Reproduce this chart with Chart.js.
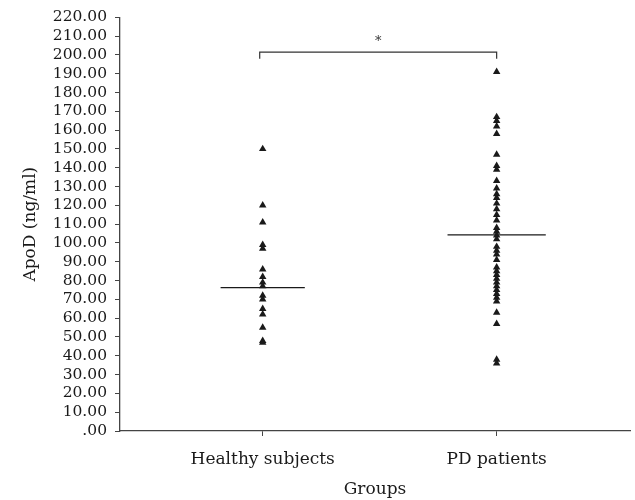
<!DOCTYPE html>
<html>
	<head>
		<meta charset="UTF-8">
		<title></title>
		<style type="text/css">
			body{ margin: 0; background: #fff; }
			#wrap{ width: 635px; height: 500px; }
		</style>
	</head>
	<body>
		<div id="wrap"><canvas id="myChart" width="635" height="500"></canvas></div>
	</body>
	<script src="https://cdn.jsdelivr.net/npm/chart.js@4.4.0/dist/chart.umd.min.js"></script>
	<script>
		// groups on the x axis
		var groups = ['Healthy subjects', 'PD patients'];
		// ApoD values (ng/ml)
		var healthy = [150, 120, 111, 99, 97, 86, 82, 79, 77, 72, 70, 65, 62, 55, 48, 47];
		var pd = [191, 167, 165, 162, 158, 147, 141, 139, 133, 129, 126, 124, 121, 118, 115, 112,
			108, 106, 104, 102, 98, 96, 94, 91, 87, 85, 83, 81, 79, 77, 75, 73, 71, 69, 63, 57, 38, 36];
		// horizontal centre lines
		var centre = [76.2, 104.3];
		var yTicks = [];
		for(var t = 0; t <= 220; t += 10){ yTicks.push(t); }
		var sigLabel = '*';

		var FONT = 'DejaVu Serif';
		var INK = '#1a1a1a';

		function pts(arr, gi){
			return arr.map(function(v){ return {x: gi, y: v}; });
		}
		function line(gi){
			var w = gi === 0 ? 0.18 : 0.21;
			return [{x: gi - w, y: centre[gi]}, {x: gi + w, y: centre[gi]}];
		}

		// significance bracket
		var bracket = {
			id: 'bracket',
			afterDatasetsDraw: function(chart){
				var ctx = chart.ctx, xs = chart.scales.x, ys = chart.scales.y;
				var x0 = xs.getPixelForValue(0) - 3, x1 = xs.getPixelForValue(1);
				var yTop = ys.getPixelForValue(201.5), yEnd = ys.getPixelForValue(198);
				ctx.save();
				ctx.strokeStyle = '#333';
				ctx.lineWidth = 1.2;
				ctx.beginPath();
				ctx.moveTo(x0, yEnd);
				ctx.lineTo(x0, yTop);
				ctx.lineTo(x1, yTop);
				ctx.lineTo(x1, yEnd);
				ctx.stroke();
				ctx.fillStyle = '#333';
				ctx.font = '13px ' + FONT;
				ctx.textAlign = 'center';
				ctx.textBaseline = 'middle';
				ctx.fillText(sigLabel, (x0 + x1) / 2, ys.getPixelForValue(207));
				ctx.restore();
			}
		};

		var ctx = document.getElementById('myChart').getContext('2d');
		var chart = new Chart(ctx, {
			type: 'scatter',
			data: {
				datasets: [
					{
						data: pts(healthy, 0),
						pointStyle: 'triangle',
						pointRadius: 4.3,
						backgroundColor: INK,
						borderColor: INK,
						borderWidth: 0
					},
					{
						data: pts(pd, 1),
						pointStyle: 'triangle',
						pointRadius: 4.3,
						backgroundColor: INK,
						borderColor: INK,
						borderWidth: 0
					},
					{
						type: 'line',
						data: line(0),
						borderColor: INK,
						borderWidth: 1.3,
						pointRadius: 0
					},
					{
						type: 'line',
						data: line(1),
						borderColor: INK,
						borderWidth: 1.3,
						pointRadius: 0
					}
				]
			},
			options: {
				responsive: false,
				animation: false,
				layout: { padding: { top: 17, right: 5, left: 0, bottom: 0 } },
				plugins: { legend: { display: false }, tooltip: { enabled: false } },
				scales: {
					x: {
						type: 'linear',
						min: -0.61,
						max: 1.57,
						afterBuildTicks: function(s){ s.ticks = [{value: 0}, {value: 1}]; },
						afterFit: function(s){ s.height = 69; },
						border: { display: true, color: '#444', width: 1.3 },
						grid: { display: true, drawOnChartArea: false, tickLength: 5, color: '#444' },
						ticks: {
							color: INK,
							padding: 13,
							maxRotation: 0,
							autoSkip: false,
							font: { family: FONT, size: 17 },
							callback: function(v){ return groups[v]; }
						},
						title: {
							display: true,
							text: 'Groups',
							color: INK,
							padding: { top: 2, bottom: 0 },
							font: { family: FONT, size: 17 }
						}
					},
					y: {
						min: 0,
						max: 220,
						afterBuildTicks: function(s){ s.ticks = yTicks.map(function(v){ return {value: v}; }); },
						afterFit: function(s){ s.width = 120; },
						border: { display: true, color: '#444', width: 1.3 },
						grid: { display: true, drawOnChartArea: false, tickLength: 5, color: '#444' },
						ticks: {
							color: INK,
							padding: 8,
							autoSkip: false,
							font: { family: FONT, size: 15.5 },
							callback: function(v){ return v === 0 ? '.00' : v.toFixed(2); }
						},
						title: {
							display: true,
							text: 'ApoD (ng/ml)',
							color: INK,
							padding: { top: 20, bottom: 4 },
							font: { family: FONT, size: 17 }
						}
					}
				}
			},
			plugins: [bracket]
		});
	</script>
</html>
